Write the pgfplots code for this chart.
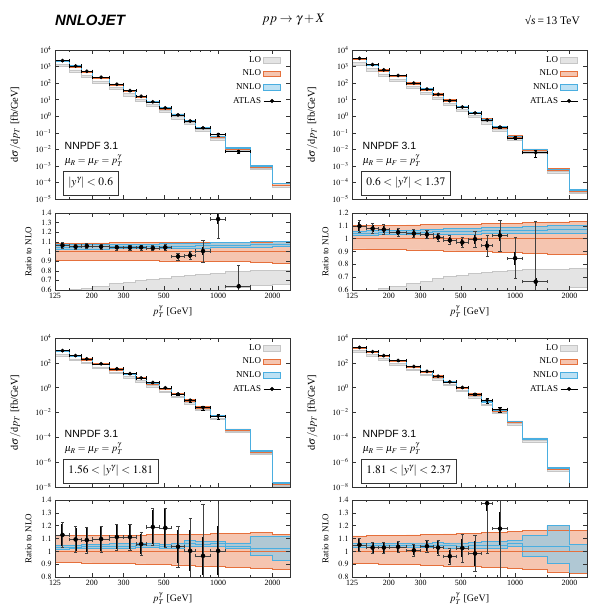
\documentclass[border=0pt]{standalone}
\usepackage{mathptmx}
\usepackage{fontspec}
\setmainfont{Liberation Serif}
\newfontfamily\helv{Liberation Sans}
\usepackage{pgfplots}
\usepackage{pgfplotstable}
\pgfplotsset{compat=1.18}

\definecolor{LOf}{HTML}{E4E4E4}
\definecolor{LOe}{HTML}{C6C6C6}
\definecolor{NLOf}{HTML}{F5C5B0}
\definecolor{NLOe}{HTML}{E5703C}
\definecolor{NNLOf}{HTML}{B0C8D4}
\definecolor{NNLOl}{HTML}{BDE1F4}
\definecolor{NNLOe}{HTML}{4AAEE0}

% theory per bin (left edge): NLO value, then ratios to NLO
\pgfplotstableread{
x    n      lol   loh   nl    nh    nnl   nnc   nnh
125  2140   0.45  0.595 0.910 1.088 1.025 1.048 1.072
150  1035   0.46  0.610 0.910 1.088 1.025 1.048 1.072
175  492    0.47  0.620 0.909 1.089 1.026 1.049 1.073
200  214    0.48  0.640 0.908 1.089 1.027 1.050 1.074
250  81.5   0.49  0.665 0.906 1.090 1.028 1.051 1.075
300  33.7   0.50  0.680 0.905 1.090 1.029 1.052 1.076
350  15.3   0.51  0.700 0.904 1.090 1.030 1.053 1.077
400  7.14   0.52  0.710 0.903 1.091 1.031 1.054 1.078
470  3.07   0.53  0.720 0.902 1.092 1.032 1.055 1.080
550  1.26   0.55  0.740 0.900 1.093 1.033 1.057 1.082
650  0.54   0.56  0.750 0.900 1.094 1.035 1.059 1.084
750  0.20   0.58  0.760 0.898 1.095 1.037 1.061 1.087
900  0.059  0.60  0.775 0.897 1.096 1.039 1.064 1.090
1100 0.0114 0.63  0.790 0.893 1.097 1.042 1.068 1.095
1500 9.3e-4 0.645 0.800 0.890 1.100 1.046 1.073 1.102
2000 8.0e-5 0.66  0.805 0.880 1.102 1.050 1.078 1.108
2500 8.0e-5 0.66  0.805 0.880 1.102 1.050 1.078 1.108
}\thA
\pgfplotstableread{
x    n      lol   loh   nl    nh    nnl   nnc   nnh
125  2878   0.44  0.590 0.920 1.103 1.028 1.044 1.060
150  1221   0.45  0.600 0.918 1.104 1.029 1.045 1.062
175  589    0.46  0.610 0.916 1.105 1.030 1.046 1.064
200  274    0.47  0.628 0.914 1.106 1.031 1.048 1.066
250  96     0.48  0.649 0.912 1.107 1.032 1.050 1.068
300  42.2   0.49  0.668 0.910 1.108 1.033 1.052 1.071
350  20.7   0.50  0.687 0.908 1.109 1.034 1.054 1.074
400  8.8    0.51  0.703 0.905 1.110 1.035 1.056 1.077
470  3.7    0.52  0.716 0.903 1.112 1.036 1.058 1.080
550  1.59   0.53  0.727 0.900 1.114 1.037 1.060 1.083
650  0.635  0.54  0.737 0.898 1.116 1.038 1.062 1.086
750  0.215  0.55  0.748 0.895 1.118 1.039 1.064 1.089
900  0.059  0.56  0.753 0.890 1.121 1.040 1.066 1.092
1100 0.0095 0.58  0.759 0.885 1.125 1.041 1.069 1.097
1500 6.0e-4 0.60  0.763 0.880 1.130 1.043 1.072 1.102
2000 3.4e-5 0.62  0.769 0.875 1.133 1.045 1.075 1.106
2500 3.4e-5 0.62  0.769 0.875 1.133 1.045 1.075 1.106
}\thB
\pgfplotstableread{
x    n      lol   loh   nl    nh    nnl   nnc   nnh
125  847    0.42  0.58  0.913 1.122 1.015 1.033 1.050
150  350    0.43  0.59  0.912 1.123 1.020 1.035 1.050
175  191    0.44  0.60  0.910 1.124 1.020 1.037 1.055
200  76.6   0.45  0.61  0.908 1.125 1.025 1.040 1.055
250  29.9   0.46  0.62  0.906 1.126 1.020 1.040 1.060
300  12.05  0.47  0.63  0.904 1.127 1.020 1.040 1.060
350  5.77   0.48  0.64  0.902 1.128 1.030 1.047 1.065
400  2.18   0.49  0.65  0.900 1.129 1.030 1.045 1.060
470  0.83   0.50  0.66  0.897 1.130 1.025 1.040 1.055
550  0.30   0.51  0.67  0.894 1.131 1.020 1.040 1.060
650  0.0956 0.52  0.68  0.890 1.133 1.040 1.062 1.085
750  0.0259 0.53  0.69  0.886 1.135 1.035 1.055 1.075
900  0.0051 0.54  0.70  0.882 1.137 1.040 1.060 1.080
1100 4.2e-4 0.55  0.71  0.877 1.140 1.020 1.042 1.065
1500 7.6e-6 0.56  0.72  0.865 1.145 0.965 1.022 1.114
2000 2.0e-8 0.57  0.73  0.858 1.130 0.926 1.022 1.120
2500 2.0e-8 0.57  0.73  0.858 1.130 0.926 1.022 1.120
}\thC
\pgfplotstableread{
x    n      lol   loh   nl    nh    nnl   nnc   nnh
125  1655   0.42  0.58  0.905 1.120 1.030 1.045 1.060
150  772    0.43  0.59  0.903 1.122 1.030 1.045 1.060
175  372    0.44  0.60  0.900 1.124 1.030 1.045 1.060
200  148    0.45  0.61  0.898 1.126 1.030 1.046 1.062
250  50.6   0.46  0.62  0.895 1.128 1.030 1.047 1.065
300  19.7   0.47  0.63  0.892 1.130 1.030 1.047 1.065
350  8.07   0.48  0.64  0.889 1.133 1.030 1.048 1.067
400  3.07   0.49  0.65  0.886 1.136 1.025 1.045 1.065
470  1.01   0.50  0.66  0.883 1.139 1.020 1.042 1.065
550  0.295  0.51  0.67  0.880 1.142 1.020 1.045 1.070
650  0.070  0.52  0.68  0.876 1.146 1.020 1.047 1.075
750  0.0153 0.53  0.69  0.872 1.150 1.020 1.050 1.080
900  1.8e-3 0.54  0.70  0.868 1.155 1.040 1.062 1.085
1100 7.8e-5 0.55  0.71  0.862 1.160 0.962 1.040 1.125
1500 3.4e-7 0.56  0.72  0.840 1.165 0.910 1.040 1.200
2000 1e-9   0.57  0.73  0.827 1.165 0.500 1.000 1.056
2500 1e-9   0.57  0.73  0.827 1.165 0.500 1.000 1.056
}\thD

% ATLAS: bin centre, half width, value, ratio to NLO, inner and total rel. error
\pgfplotstableread{
xc    xe   d      r     es    et
137.5 12.5 2275   1.064 0.025 0.030
162.5 12.5 1087   1.050 0.020 0.025
187.5 12.5 519    1.057 0.020 0.025
225   25   225    1.050 0.020 0.025
275   25   85     1.043 0.020 0.025
325   25   35     1.040 0.020 0.025
375   25   16     1.043 0.020 0.025
435   35   7.4    1.036 0.020 0.025
510   40   3.2    1.043 0.025 0.035
600   50   1.2    0.949 0.025 0.035
700   50   0.52   0.960 0.030 0.045
825   75   0.2    1.005 0.040 0.117
1000  100  0.079  1.337 0.050 0.200
1300  200  0.0073 0.638 0.020 0.220
}\daA
\pgfplotstableread{
xc    xe   d      r     es    et
137.5 12.5 3160   1.098 0.035 0.045
162.5 12.5 1318   1.079 0.030 0.038
187.5 12.5 631    1.071 0.030 0.038
225   25   288    1.050 0.025 0.032
275   25   100    1.041 0.025 0.032
325   25   43.6   1.033 0.025 0.032
375   25   20.9   1.012 0.025 0.032
435   35   8.7    0.988 0.025 0.035
510   40   3.6    0.971 0.030 0.040
600   50   1.58   0.996 0.035 0.060
700   50   0.6    0.945 0.035 0.080
825   75   0.22   1.025 0.040 0.120
1000  100  0.05   0.848 0.050 0.160
1300  200  0.0063 0.665 0.030 0.470
}\daB
\pgfplotstableread{
xc    xe   d      r     es    et
137.5 12.5 955    1.128 0.087 0.095
162.5 12.5 383    1.093 0.090 0.100
187.5 12.5 208    1.088 0.090 0.100
225   25   84     1.096 0.090 0.100
275   25   33.2   1.112 0.090 0.100
325   25   13.4   1.112 0.090 0.100
375   25   6.1    1.057 0.080 0.090
435   35   2.6    1.190 0.135 0.145
510   40   0.98   1.183 0.150 0.155
600   50   0.31   1.036 0.130 0.160
700   50   0.096  1.004 0.160 0.255
825   75   0.025  0.965 0.150 0.400
1000  100  0.0051 1.004 0.190 0.450
}\daC
\pgfplotstableread{
xc    xe   d      r     es    et
137.5 12.5 1740   1.051 0.045 0.050
162.5 12.5 794    1.029 0.040 0.045
187.5 12.5 383    1.029 0.040 0.045
225   25   153    1.035 0.040 0.045
275   25   51     1.008 0.040 0.045
325   25   20.5   1.040 0.040 0.050
375   25   8.3    1.029 0.050 0.060
435   35   2.95   0.962 0.050 0.060
510   40   1.04   1.026 0.070 0.110
600   50   0.29   0.983 0.100 0.140
700   50   0.096  1.375 0.060 0.390
825   75   0.018  1.177 0.130 0.400
}\daD

% axis openers: #1 x, #2 y of lower left corner, #3 extra options
\newcommand\mainaxis[3]{\begin{axis}[scale only axis, width=235bp, height=149bp,
    at={(#1,#2)}, anchor=south west, axis on top,
    xmode=log, ymode=log, log origin y=infty, xmin=125, xmax=2500,
    xtick={125,200,300,500,1000,2000}, xticklabels={},
    minor xtick={150,250,400,600,700,800,900,1500},
    tick align=inside, major tick length=4bp, minor tick length=2bp,
    tick style={black!80, line width=0.4bp},
    axis line style={black!80, line width=0.6bp},
    tick label style={font=\fontsize{8}{9}\selectfont},
    yminorticks=false,
    ylabel={$\mathrm{d}\sigma/\mathrm{d}p_T$ [fb/GeV]},
    ylabel style={font=\fontsize{10.5}{11}\selectfont},
    ylabel shift=8bp,
    legend style={at={(0.975,0.985)}, anchor=north east,
      draw=none, fill=none, row sep=2.2bp,
      font=\fontsize{9}{10}\selectfont},
    legend cell align=right, legend plot pos=right, #3]}
\newcommand\ratioaxis[3]{\begin{axis}[scale only axis, width=235bp, height=77bp,
    at={(#1,#2)}, anchor=south west, axis on top,
    xmode=log, xmin=125, xmax=2500,
    xtick={125,200,300,500,1000,2000}, xticklabels={125,200,300,500,1000,2000},
    minor xtick={150,250,400,600,700,800,900,1500},
    tick align=inside, major tick length=4bp, minor tick length=2bp,
    tick style={black!80, line width=0.4bp},
    axis line style={black!80, line width=0.6bp},
    tick label style={font=\fontsize{8}{9}\selectfont},
    xlabel={$p_T^\gamma$ [GeV]},
    xlabel style={font=\fontsize{10}{11}\selectfont},
    ylabel={Ratio to NLO},
    ylabel style={font=\fontsize{9}{10}\selectfont},
    ylabel shift=3bp, #3]}

% bands: layered fills down to the axis floor, then the edge lines
% #1 table, #2 factor prefix (\thisrow{n}* in the main plots)
\newcommand\bands[2]{%
  \addplot[fill=NLOf, draw=none, const plot, forget plot] table[x=x, y expr=#2\thisrow{nh}]{#1} \closedcycle;
  \addplot[fill=NNLOf, draw=none, const plot, forget plot] table[x=x, y expr=#2\thisrow{nnh}]{#1} \closedcycle;
  \addplot[fill=NLOf, draw=none, const plot, forget plot] table[x=x, y expr=#2\thisrow{nnl}]{#1} \closedcycle;
  \addplot[fill=white, draw=none, const plot, forget plot] table[x=x, y expr=#2\thisrow{nl}]{#1} \closedcycle;
  \addplot[fill=LOf, draw=none, const plot, forget plot] table[x=x, y expr=#2\thisrow{loh}]{#1} \closedcycle;
  \addplot[fill=white, draw=none, const plot, forget plot] table[x=x, y expr=#2\thisrow{lol}]{#1} \closedcycle;
  \addplot[draw=LOe, line width=0.7bp, const plot, forget plot] table[x=x, y expr=#2\thisrow{lol}]{#1};
  \addplot[draw=LOe, line width=0.7bp, const plot, forget plot] table[x=x, y expr=#2\thisrow{loh}]{#1};
  \addplot[draw=NLOe, line width=0.7bp, const plot, forget plot] table[x=x, y expr=#2\thisrow{nl}]{#1};
  \addplot[draw=NLOe, line width=0.7bp, const plot, forget plot] table[x=x, y expr=#2\thisrow{nh}]{#1};
  \addplot[draw=NNLOe, line width=0.7bp, const plot, forget plot] table[x=x, y expr=#2\thisrow{nnl}]{#1};
  \addplot[draw=NNLOe, line width=0.7bp, const plot, forget plot] table[x=x, y expr=#2\thisrow{nnh}]{#1};
  \addplot[draw=NNLOe, line width=0.6bp, const plot, forget plot] table[x=x, y expr=#2\thisrow{nnc}]{#1};
}
\newcommand\maindata[1]{%
  \addplot[only marks, mark=*, mark size=1.7bp, black, forget plot,
    error bars/.cd, x dir=both, x explicit, y dir=both, y explicit,
    error bar style={line width=0.5bp, black},
    error mark options={rotate=90, mark size=1.6bp, line width=0.5bp}]
    table[x=xc, y=d, x error=xe, y error expr=\thisrow{d}*\thisrow{et}]{#1};
}
\newcommand\ratiodata[1]{%
  \addplot[NLOe, line width=0.7bp, forget plot] coordinates {(125,1) (2500,1)};
  \addplot[only marks, mark=none, black, forget plot,
    error bars/.cd, y dir=both, y explicit, error mark=none,
    error bar style={line width=2bp, black}]
    table[x=xc, y=r, y error=es]{#1};
  \addplot[only marks, mark=*, mark size=1.7bp, black, forget plot,
    error bars/.cd, x dir=both, x explicit, y dir=both, y explicit,
    error bar style={line width=0.5bp, black!75},
    error mark options={rotate=90, mark size=1.6bp, line width=0.5bp}]
    table[x=xc, y=r, x error=xe, y error=et]{#1};
}
\newcommand\legendset{%
  \addlegendimage{area legend, fill=LOf, draw=LOe, line width=0.8bp}
  \addlegendentry{LO}
  \addlegendimage{area legend, fill=NLOf, draw=NLOe, line width=0.8bp}
  \addlegendentry{NLO}
  \addlegendimage{area legend, fill=NNLOl, draw=NNLOe, line width=0.8bp}
  \addlegendentry{NNLO}
  \addlegendimage{black, line width=0.5bp, mark=*, mark size=1.7bp}
  \addlegendentry{ATLAS}
}
% panel annotations, #1 x shift, #2 y shift, #3 rapidity range
\newcommand\panellabels[3]{%
  \begin{scope}[shift={(#1,#2)}]
  \node[anchor=west, inner sep=0.5bp, font=\helv\fontsize{10.5}{11}\selectfont] at (64bp,-146bp) {NNPDF 3.1};
  \node[anchor=west, inner sep=0.5bp, font=\fontsize{10}{11}\selectfont] at (64bp,-161bp) {$\mu_R=\mu_F=p_T^\gamma$};
  \node[anchor=west, draw=black!80, line width=0.6bp, inner xsep=5bp, inner ysep=1bp, minimum height=24bp,
    font=\fontsize{11.5}{12}\selectfont] at (63bp,-183bp) {#3};
  \end{scope}
}

\begin{document}
\begin{tikzpicture}
\useasboundingbox (0,0) rectangle (595bp,-609bp);
\node[anchor=west, inner sep=0pt, font=\helv\bfseries\itshape\fontsize{15}{16}\selectfont] at (55bp,-20bp) {NNLOJET};
\node[anchor=west, inner sep=0pt, font=\fontsize{13}{14}\selectfont] at (262bp,-20bp) {$pp\to\gamma+X$};
\node[anchor=east, inner sep=0pt, font=\fontsize{11.5}{12}\selectfont] at (580bp,-20bp) {\char"221A\textit{s}\,=\,13 TeV};

% ---- |y| < 0.6
\mainaxis{55bp}{-199bp}{ymin=1e-5, ymax=1e4,
  ytick={1e-5,1e-4,1e-3,1e-2,1e-1,1,10,100,1000,10000}}
\bands{\thA}{\thisrow{n}*}
\maindata{\daA}
\legendset
\end{axis}
\ratioaxis{55bp}{-290bp}{ymin=0.6, ymax=1.4,
  ytick={0.6,0.7,0.8,0.9,1,1.1,1.2,1.3,1.4}}
\bands{\thA}{}
\ratiodata{\daA}
\end{axis}
\panellabels{0bp}{0bp}{$|y^\gamma|<0.6$}

% ---- 0.6 < |y| < 1.37
\mainaxis{352bp}{-199bp}{ymin=1e-5, ymax=1e4,
  ytick={1e-5,1e-4,1e-3,1e-2,1e-1,1,10,100,1000,10000}}
\bands{\thB}{\thisrow{n}*}
\maindata{\daB}
\legendset
\end{axis}
\ratioaxis{352bp}{-290bp}{ymin=0.6, ymax=1.2,
  ytick={0.6,0.7,0.8,0.9,1,1.1,1.2}}
\bands{\thB}{}
\ratiodata{\daB}
\end{axis}
\panellabels{298bp}{0bp}{$0.6<|y^\gamma|<1.37$}

% ---- 1.56 < |y| < 1.81
\mainaxis{55bp}{-487bp}{ymin=1e-8, ymax=1e4,
  ytick={1e-8,1e-6,1e-4,1e-2,1,100,10000}}
\bands{\thC}{\thisrow{n}*}
\maindata{\daC}
\legendset
\end{axis}
\ratioaxis{55bp}{-577bp}{ymin=0.8, ymax=1.4,
  ytick={0.8,0.9,1,1.1,1.2,1.3,1.4}}
\bands{\thC}{}
\ratiodata{\daC}
\end{axis}
\panellabels{0bp}{-288bp}{$1.56<|y^\gamma|<1.81$}

% ---- 1.81 < |y| < 2.37
\mainaxis{352bp}{-487bp}{ymin=1e-8, ymax=1e4,
  ytick={1e-8,1e-6,1e-4,1e-2,1,100,10000}}
\bands{\thD}{\thisrow{n}*}
\maindata{\daD}
\legendset
\end{axis}
\ratioaxis{352bp}{-577bp}{ymin=0.8, ymax=1.4,
  ytick={0.8,0.9,1,1.1,1.2,1.3,1.4}}
\bands{\thD}{}
\ratiodata{\daD}
\end{axis}
\panellabels{298bp}{-288bp}{$1.81<|y^\gamma|<2.37$}
\end{tikzpicture}
\end{document}
